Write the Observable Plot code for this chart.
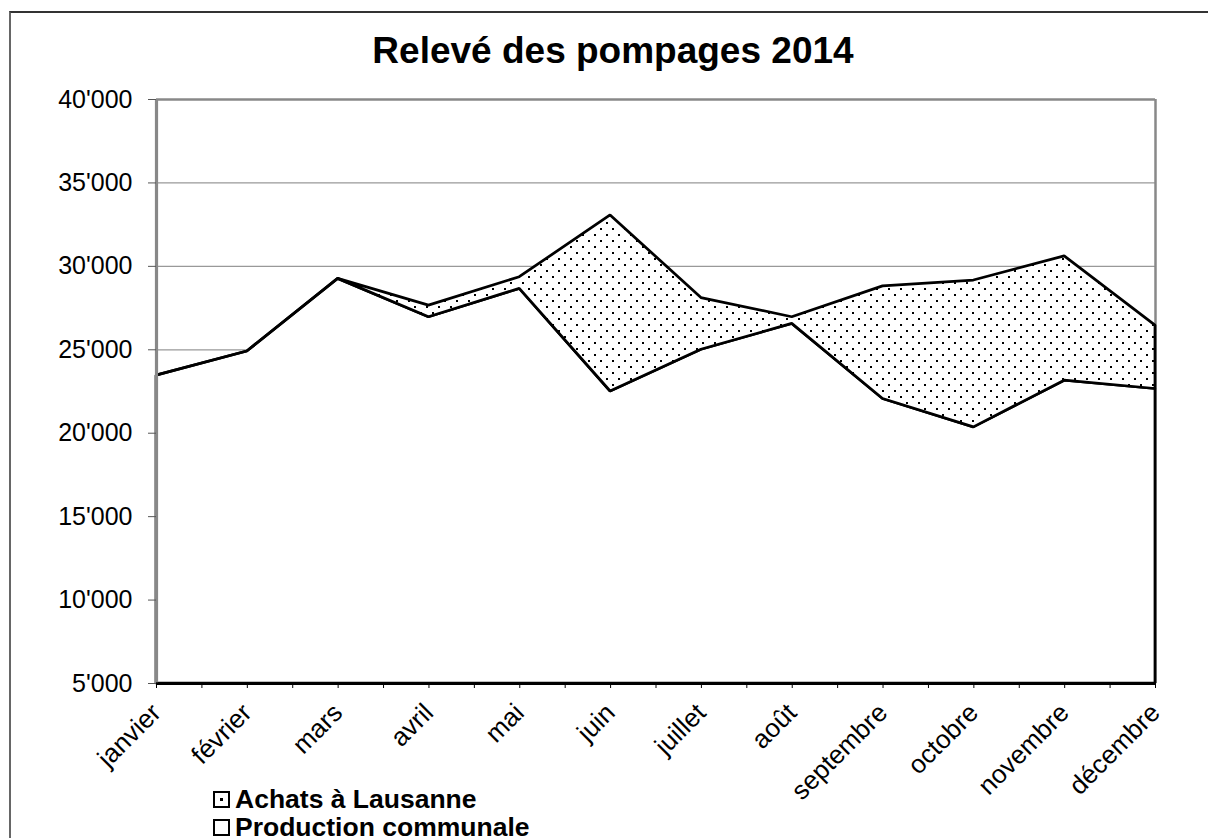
<!DOCTYPE html>
<html><head><meta charset="utf-8">
<script src="https://cdn.jsdelivr.net/npm/d3@7"></script>
<script src="https://cdn.jsdelivr.net/npm/@observablehq/plot@0.6"></script>
<style>
body{margin:0;background:#fff;font-family:"Liberation Sans",Arial,sans-serif;}
#wrap{position:relative;width:1208px;height:838px;overflow:hidden;background:#fff;}
#frame{position:absolute;left:9px;top:11px;width:1300px;height:1000px;border-top:2px solid #333;border-left:2px solid #666;}
#title{position:absolute;left:0;width:1226px;top:32px;text-align:center;font-weight:bold;font-size:37px;line-height:37px;color:#000;}
#chart{position:absolute;left:0;top:0;}
#chart svg, #chart svg text{font-family:"Liberation Sans",Arial,sans-serif !important;}
#chart svg g[aria-label="y-axis tick label"] text{font-size:25px;}
#legend{position:absolute;left:213px;top:785px;font-weight:bold;font-size:26.5px;line-height:28px;color:#000;white-space:nowrap;}
#legend svg{vertical-align:baseline;margin-right:5px;}
</style></head>
<body>
<div id="wrap">
  <div id="frame"></div>
  <div id="title">Relevé des pompages 2014</div>
  <div id="chart"></div>
  <div id="legend"></div>
</div>
<script>
const months = ["janvier","février","mars","avril","mai","juin","juillet","août","septembre","octobre","novembre","décembre"];
const production = [23450, 24900, 29250, 26950, 28650, 22500, 25000, 26550, 22050, 20350, 23150, 22650];
const achats = [0, 0, 0, 700, 700, 10550, 3100, 400, 6750, 8800, 7450, 3800];
const yTicks = [5000, 10000, 15000, 20000, 25000, 30000, 35000, 40000];
const seriesNames = ["Achats à Lausanne", "Production communale"];

const fmt = d3.formatLocale({thousands:"'", grouping:[3], decimal:".", currency:["",""]}).format(",d");
const rows = months.map((m, i) => ({i, month: m, prod: production[i], total: production[i] + achats[i]}));
const yMin = yTicks[0], yMax = yTicks[yTicks.length - 1];
const last = months.length - 1;

const plot = Plot.plot({
  width: 1208, height: 838,
  marginLeft: 156, marginRight: 53, marginTop: 99, marginBottom: 155,
  style: {fontFamily: "Liberation Sans, Arial, sans-serif", fontSize: "26px", color: "#000", background: "transparent"},
  x: {type: "linear", domain: [0, last], label: null},
  y: {domain: [yMin, yMax], label: null},
  marks: [
    Plot.gridY(yTicks.slice(1, -1), {stroke: "#999", strokeOpacity: 1, strokeWidth: 1.3}),
    Plot.ruleY([yMax], {stroke: "#888", strokeWidth: 2.5}),
    Plot.ruleX([last], {stroke: "#888", strokeWidth: 2.5}),
    Plot.areaY(rows, {x: "i", y1: yMin, y2: "prod", fill: "white", stroke: "black", strokeWidth: 2.75, strokeLinejoin: "miter"}),
    Plot.areaY(rows, {x: "i", y1: "prod", y2: "total", fill: "url(#dots)", stroke: "black", strokeWidth: 2.75, strokeLinejoin: "miter"}),
    Plot.ruleX([0], {stroke: "#888", strokeWidth: 3.2}),
    Plot.axisY({ticks: yTicks, tickFormat: fmt, tickSize: 8, tickPadding: 16, stroke: "#555", fill: "black", label: null}),
    Plot.ruleY([yMin], {stroke: "black", strokeWidth: 2.75}),
    Plot.axisX({ticks: d3.range(months.length), tickFormat: i => months[i], tickRotate: -45, tickSize: 5, tickPadding: 20, stroke: "black", fill: "black", label: null}),
    Plot.axisX({ticks: d3.range(0.5, last, 1), tickFormat: () => "", tickSize: 5, stroke: "black", label: null})
  ]
});

const svgSel = d3.select(plot);
const defs = svgSel.insert("defs", ":first-child");
const pat = defs.append("pattern").attr("id", "dots").attr("patternUnits", "userSpaceOnUse")
  .attr("width", 12).attr("height", 12);
pat.append("rect").attr("width", 12).attr("height", 12).attr("fill", "white");
pat.append("rect").attr("x", 0).attr("y", 0).attr("width", 2).attr("height", 2).attr("fill", "black");
pat.append("rect").attr("x", 6).attr("y", 6).attr("width", 2).attr("height", 2).attr("fill", "black");
document.getElementById("chart").appendChild(plot);

const legend = d3.select("#legend");
seriesNames.forEach((name, k) => {
  const row = legend.append("div");
  const sw = row.append("svg").attr("width", 17).attr("height", 17);
  sw.append("rect").attr("x", 1).attr("y", 1).attr("width", 15).attr("height", 15).attr("fill", "white").attr("stroke", "black").attr("stroke-width", 2);
  if (k === 0) sw.append("rect").attr("x", 7).attr("y", 7).attr("width", 3).attr("height", 3).attr("fill", "black");
  row.append("span").text(name);
});
</script>
</body></html>
